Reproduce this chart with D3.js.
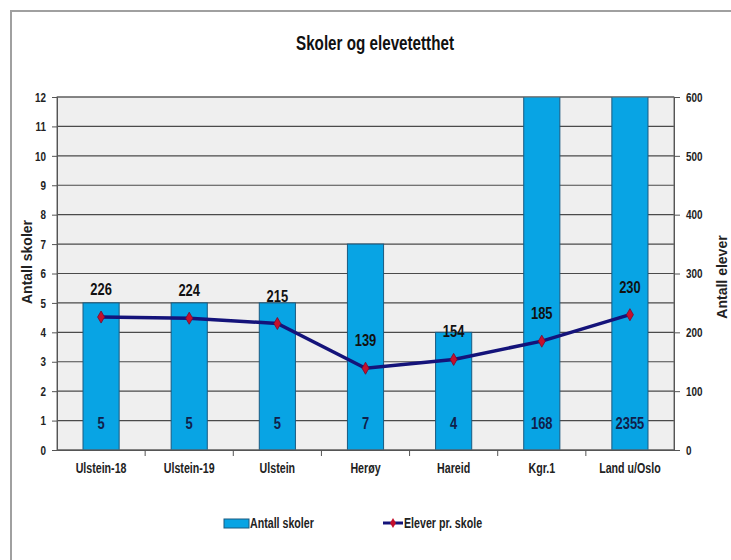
<!DOCTYPE html>
<html><head><meta charset="utf-8">
<script src="https://cdn.jsdelivr.net/npm/d3@7"></script>
<style>
body{margin:0;background:#fff;}
text{font-family:"Liberation Sans Narrow","Arial Narrow","Liberation Sans",Arial,sans-serif;font-weight:bold;}
</style></head><body>
<svg id="c" width="731" height="560"></svg>
<script>
const categories = ["Ulstein-18","Ulstein-19","Ulstein","Herøy","Hareid","Kgr.1","Land u/Oslo"];
const antallSkoler = [5,5,5,7,4,168,2355];
const eleverPrSkole = [226,224,215,139,154,185,230];
const leftTicks = [0,1,2,3,4,5,6,7,8,9,10,11,12];
const rightTicks = [0,100,200,300,400,500,600];

const svg = d3.select("#c");
const m = {l:57, r:674, t:97, b:450};

svg.append("path").attr("d","M11,560 V11 H731").attr("fill","none").attr("stroke","#a0a0a0").attr("stroke-width",2);

svg.append("text").attr("class","nar").attr("x",375).attr("y",50).attr("text-anchor","middle")
  .attr("font-size",20).attr("fill","#111").text("Skoler og elevetetthet");

const x = d3.scaleBand().domain(categories).range([m.l,m.r]).paddingInner(0.59).paddingOuter(0.295);
const xb = d3.scaleBand().domain(categories).range([m.l,m.r]);
const yL = d3.scaleLinear().domain([0,12]).range([m.b,m.t]);
const yR = d3.scaleLinear().domain([0,600]).range([m.b,m.t]);

svg.append("rect").attr("x",m.l).attr("y",m.t).attr("width",m.r-m.l).attr("height",m.b-m.t).attr("fill","#efefef");

svg.append("g").selectAll("line").data(leftTicks).join("line")
  .attr("x1",m.l).attr("x2",m.r).attr("y1",d=>yL(d)).attr("y2",d=>yL(d))
  .attr("stroke","#4a4a4a").attr("stroke-width",1.2);

svg.append("clipPath").attr("id","pc").append("rect")
  .attr("x",m.l).attr("y",m.t).attr("width",m.r-m.l).attr("height",m.b-m.t);
svg.append("g").attr("clip-path","url(#pc)").selectAll("rect").data(categories).join("rect")
  .attr("x",d=>x(d)).attr("width",x.bandwidth())
  .attr("y",(d,i)=>yL(Math.min(antallSkoler[i],12.5)))
  .attr("height",(d,i)=>m.b-yL(Math.min(antallSkoler[i],12.5)))
  .attr("fill","#08a4e4").attr("stroke","#1a5a80").attr("stroke-width",1);

svg.append("rect").attr("x",m.l).attr("y",m.t).attr("width",m.r-m.l).attr("height",m.b-m.t)
  .attr("fill","none").attr("stroke","#666").attr("stroke-width",1);

const axL = svg.append("g").attr("transform",`translate(${m.l},0)`)
  .call(d3.axisLeft(yL).tickValues(leftTicks).tickSize(5).tickPadding(6));
const axR = svg.append("g").attr("transform",`translate(${m.r},0)`)
  .call(d3.axisRight(yR).tickValues(rightTicks).tickSize(6).tickPadding(6));
const axB = svg.append("g").attr("transform",`translate(0,${m.b})`)
  .call(d3.axisBottom(xb).tickSize(0).tickPadding(13));
[axL,axR,axB].forEach(a=>{
  a.select(".domain").attr("stroke","#555");
  a.selectAll(".tick line").attr("stroke","#555");
  a.selectAll("text").attr("class","nar").attr("font-size",13).attr("fill","#222")
   .style("font-family",'"Liberation Sans Narrow","Arial Narrow","Liberation Sans",sans-serif').attr("font-weight","bold");
});
axB.selectAll("text").attr("font-size",14);
svg.append("g").selectAll("line").data(categories.slice(1)).join("line")
  .attr("x1",d=>xb(d)).attr("x2",d=>xb(d)).attr("y1",m.b).attr("y2",m.b+6).attr("stroke","#555");

const lineGen = d3.line().x((d,i)=>x(categories[i])+x.bandwidth()/2).y(d=>yR(d));
svg.append("path").datum(eleverPrSkole).attr("d",lineGen)
  .attr("fill","none").attr("stroke","#14137a").attr("stroke-width",3.5);
svg.append("g").selectAll("path").data(eleverPrSkole).join("path")
  .attr("d",d3.symbol(d3.symbolDiamond,42))
  .attr("transform",(d,i)=>`translate(${x(categories[i])+x.bandwidth()/2},${yR(d)})`)
  .attr("fill","#c4102c").attr("stroke","#7a0a30").attr("stroke-width",0.8);

svg.append("g").selectAll("text").data(antallSkoler).join("text").attr("class","nar")
  .attr("x",(d,i)=>x(categories[i])+x.bandwidth()/2).attr("y",yL(0.7))
  .attr("text-anchor","middle").attr("font-size",17).attr("fill","#10204a").text(d=>d);
svg.append("g").selectAll("text").data(eleverPrSkole).join("text").attr("class","nar")
  .attr("x",(d,i)=>x(categories[i])+x.bandwidth()/2).attr("y",d=>yR(d)-22)
  .attr("text-anchor","middle").attr("font-size",17).attr("fill","#111").text(d=>d);

svg.append("text").attr("transform","translate(32,262) rotate(-90)").attr("text-anchor","middle")
  .attr("font-size",14).attr("fill","#222").style("font-family","'Liberation Sans',Arial,sans-serif").text("Antall skoler");
svg.append("text").attr("transform","translate(727,277) rotate(-90)").attr("text-anchor","middle")
  .attr("font-size",14).attr("fill","#222").style("font-family","'Liberation Sans',Arial,sans-serif").text("Antall elever");

const lg = svg.append("g");
lg.append("rect").attr("x",224).attr("y",519).attr("width",25).attr("height",9)
  .attr("fill","#08a4e4").attr("stroke","#1a5a80");
lg.append("text").attr("class","nar").attr("x",250).attr("y",528).attr("font-size",14).attr("fill","#222").text("Antall skoler");
lg.append("line").attr("x1",383).attr("x2",403).attr("y1",523).attr("y2",523).attr("stroke","#14137a").attr("stroke-width",3);
lg.append("path").attr("d",d3.symbol(d3.symbolDiamond,30)).attr("transform","translate(393,523)").attr("fill","#c4102c");
lg.append("text").attr("class","nar").attr("x",404).attr("y",528).attr("font-size",14).attr("fill","#222").text("Elever pr. skole");

// condense text to mimic a narrow face
svg.selectAll("text.nar").each(function(){
  const len = this.getComputedTextLength();
  d3.select(this).attr("textLength", len*0.76).attr("lengthAdjust","spacingAndGlyphs");
});
</script></body></html>
